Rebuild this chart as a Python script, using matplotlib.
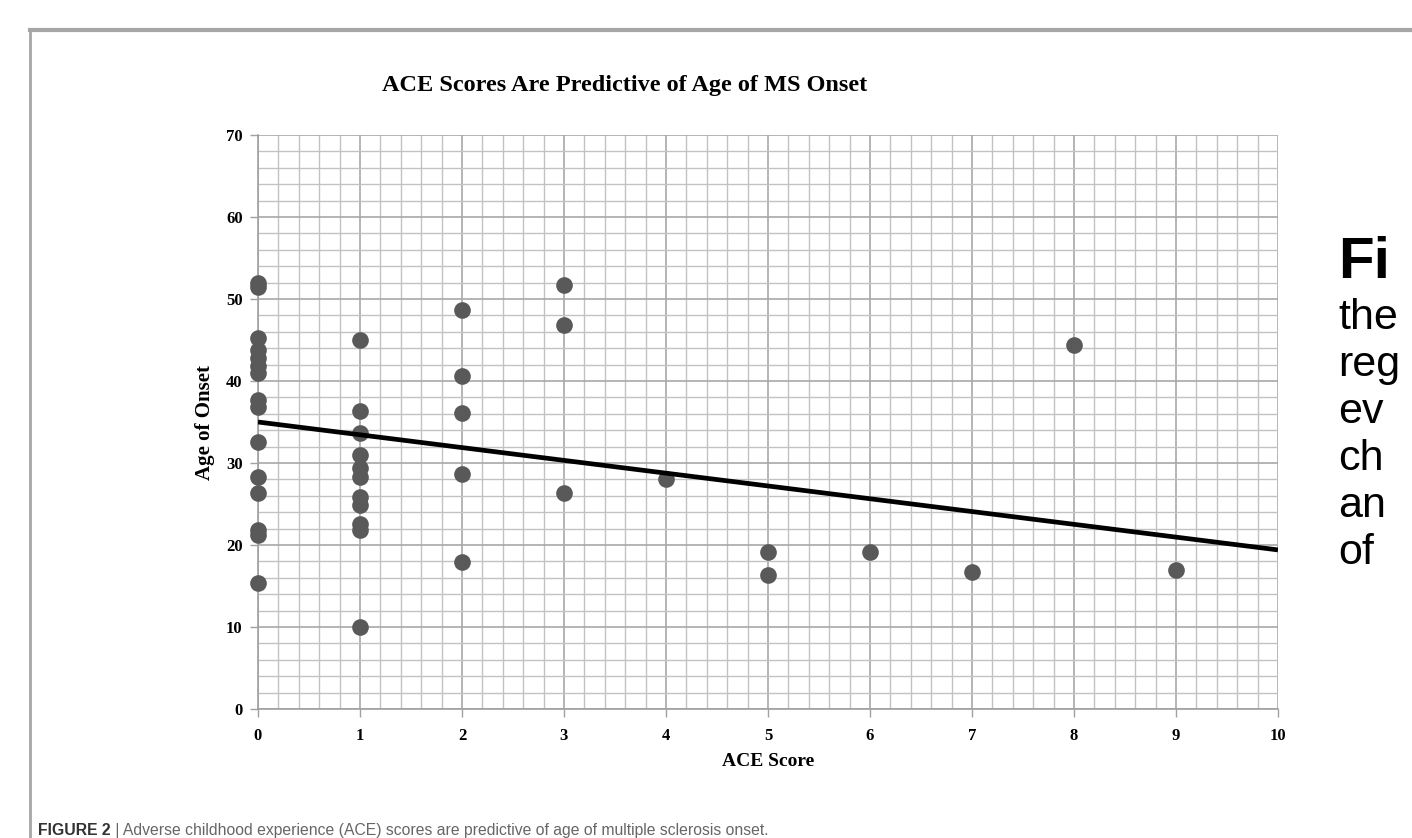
import numpy as np
import matplotlib.pyplot as plt
from matplotlib.lines import Line2D

# Data
ace_score = [0] * 15 + [1] * 11 + [2] * 5 + [3] * 3 + [4] + [5, 5] + [6] + [7] + [8] + [9]
age_onset = [52.0, 51.5, 45.2, 43.8, 42.8, 41.8, 41.0, 37.7, 36.8, 32.6, 28.3, 26.4, 21.8, 21.2, 15.4,
             45.0, 36.3, 33.6, 31.0, 29.4, 28.3, 25.9, 24.9, 22.6, 21.8, 10.0,
             48.7, 40.6, 36.1, 28.7, 17.9,
             51.7, 46.8, 26.4,
             28.0,
             19.1, 16.4,
             19.2,
             16.7,
             44.4,
             17.0]
# linear trend line as drawn in the figure
trend_x = [0, 10]
trend_y = [35.0, 19.4]

x_ticks = list(range(0, 11))
y_ticks = list(range(0, 71, 10))

W, H = 1412, 838
fig = plt.figure(figsize=(W / 100, H / 100), dpi=100)
fig.patch.set_facecolor('white')

serif = 'Liberation Serif'

# panel frame (top and left border of the figure box)
fig.add_artist(Line2D([30 / W, 1.0], [1 - 30 / H, 1 - 30 / H], color='#a6a6a6', lw=3, transform=fig.transFigure))
fig.add_artist(Line2D([30 / W, 30 / W], [0, 1 - 30 / H], color='#a6a6a6', lw=2, transform=fig.transFigure))

ax = fig.add_axes([258 / W, 1 - 709 / H, 1020 / W, 574 / H])
ax.set_xlim(0, 10)
ax.set_ylim(0, 70)

# graph-paper style grid
ax.set_xticks(np.arange(0, 10.01, 0.2), minor=True)
ax.set_yticks(np.arange(0, 70.01, 2), minor=True)
ax.set_xticks(x_ticks)
ax.set_yticks(y_ticks)
ax.grid(which='minor', color='#c2c2c2', lw=1.0)
ax.grid(which='major', color='#a8a8a8', lw=1.2)
ax.set_axisbelow(True)
ax.tick_params(which='minor', length=0)
ax.tick_params(which='major', length=6, color='#a0a0a0', direction='out', width=1)

for s in ['top', 'right']:
    ax.spines[s].set_visible(False)
for s in ['left', 'bottom']:
    ax.spines[s].set_color('#a0a0a0')
    ax.spines[s].set_linewidth(1.2)

ax.plot(ace_score, age_onset, 'o', ms=12, color='#595959', mec='none', zorder=3, clip_on=False)
ax.plot(trend_x, trend_y, color='black', lw=3.4, zorder=4, solid_capstyle='butt')

for lbl in ax.get_xticklabels() + ax.get_yticklabels():
    lbl.set_fontfamily(serif)
    lbl.set_fontweight('bold')
    lbl.set_fontsize(12)
ax.tick_params(axis='x', pad=8)
ax.tick_params(axis='y', pad=5)

ax.set_xlabel('ACE Score', fontfamily=serif, fontweight='bold', fontsize=14, labelpad=6)
ax.set_ylabel('Age of Onset', fontfamily=serif, fontweight='bold', fontsize=15, labelpad=8)
fig.text(625 / W, 1 - 86 / H, 'ACE Scores Are Predictive of Age of MS Onset', ha='center', va='center',
         fontfamily=serif, fontweight='bold', fontsize=17.5)

# caption, cut at the bottom edge
cap1 = fig.text(38 / W, 3 / H, 'FIGURE 2', ha='left', va='baseline', fontsize=11.3, fontweight='bold',
                color='#333333', family='Liberation Sans')
fig.canvas.draw()
bb = cap1.get_window_extent()
fig.text(bb.x1 / W, 3 / H, ' | Adverse childhood experience (ACE) scores are predictive of age of multiple sclerosis onset.',
         ha='left', va='baseline', fontsize=11.3, color='#666666', family='Liberation Sans')

# text of the neighbouring page column, clipped by the right edge
fig.text(1338 / W, 1 - 278 / H, 'Fi', ha='left', va='baseline', fontsize=42, fontweight='bold',
         family='Liberation Sans')
side_lines = ['the', 'reg', 'ev', 'ch', 'an', 'of']
for i, word in enumerate(side_lines):
    fig.text(1338 / W, 1 - (329 + 47 * i) / H, word, ha='left', va='baseline', fontsize=31,
             family='Liberation Sans')

fig.savefig('out.png', dpi=100)
